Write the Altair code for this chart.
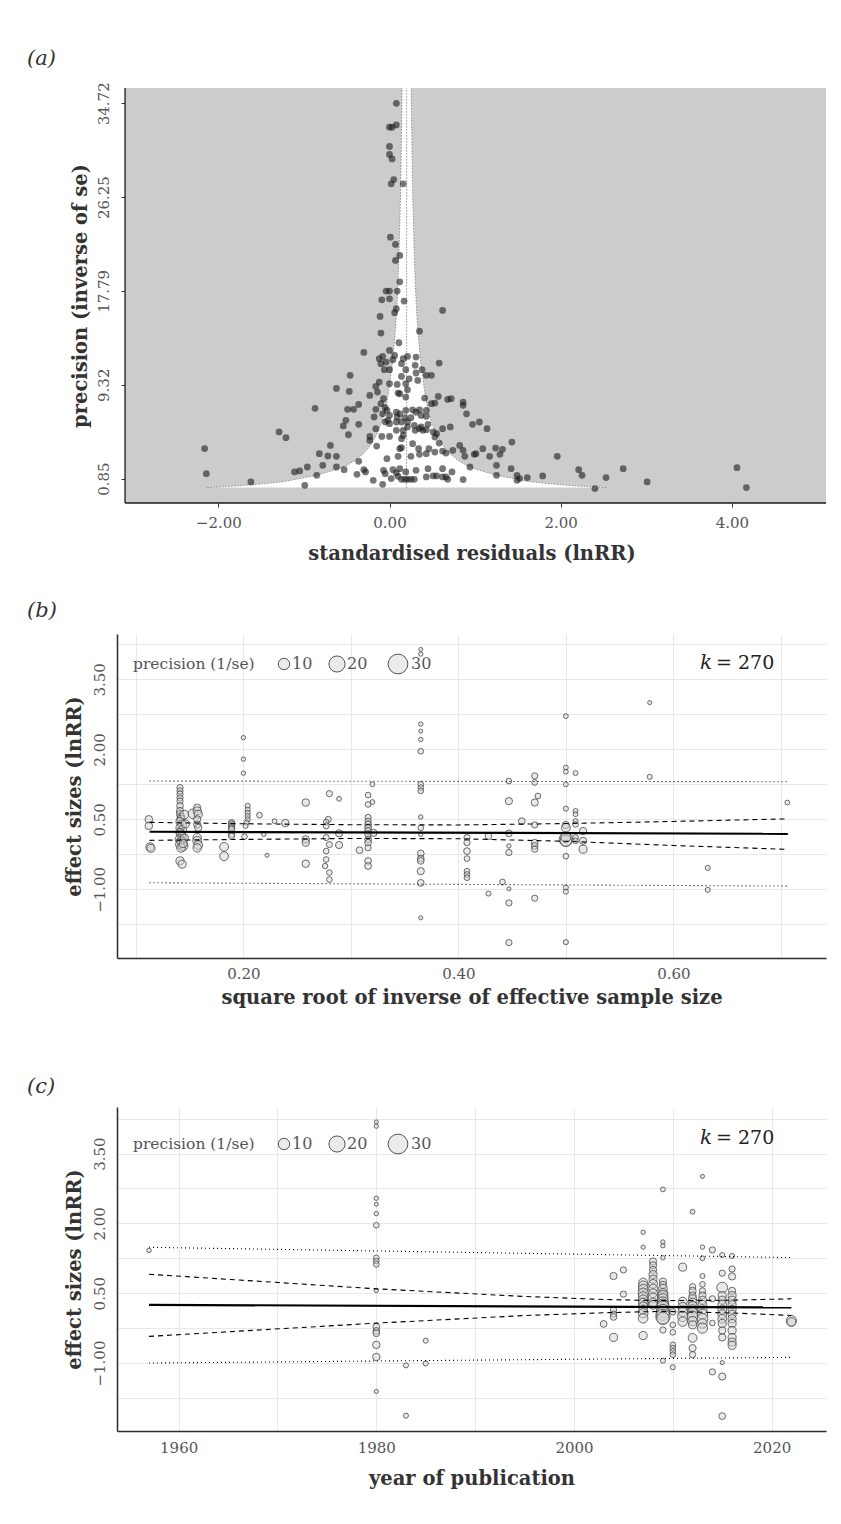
import altair as alt
import pandas as pd

SERIF = "DejaVu Serif"
TICK_C = "#555555"
TITLE_C = "#333333"

# ---------------- panel (a): funnel plot ----------------
a_resid = [0.08, 0.00, 0.03, 0.08, 0.00, 0.00, 0.03, 0.05, 0.02, 0.16,
           0.01, 0.07, 0.12, 0.07, 0.12, -0.04, 0.00, 0.09, -0.09, 0.00,
           0.17, 0.08, 0.06, 0.62, -0.11, -0.10, 0.35, 0.11, 0.00,
           -0.30, -0.08, -0.12, 0.04, -0.04, -0.10, 0.06, 0.16, 0.21, 0.31,
           0.14, 0.19, 0.30, 0.00, -0.06, 0.38, 0.58, 0.31, 0.43, 0.49,
           -0.46, 0.14, 0.23, 0.33, -0.12, -0.16, 0.00, 0.09, 0.19, -0.62,
           -0.47, -0.14, 0.10, 0.12, 0.21, -0.23, 0.19, 0.57,
           0.68, 0.72, 0.86, 0.86, -0.07, -0.10, 0.41, 0.49, 0.53, -0.36,
           -0.49, -0.42, -0.87, -0.16, -0.05, -0.03, 0.08, 0.12, 0.19, 0.27,
           0.31, 0.35, 0.43, 0.90, -0.18, 0.09, 0.18, 0.25, 0.37, 0.43,
           -0.08, 0.00,
           -0.51, -0.54, -0.36, -0.05, -0.02, 0.00, 0.08, 0.14, 0.21, 0.29,
           0.37, 0.45, 0.97, 1.05, -0.16, 0.08, 0.16, 0.35, 0.39, 0.43,
           0.62, 0.71, 1.14, 0.21, 0.30,
           0.51, -0.48, -0.23, -0.23, -0.09, 0.00, 0.16, 0.14, 0.53, 0.55,
           1.43, -0.69, -0.15, 0.12, 0.14, 0.34, 0.46, 0.58, 0.82, -1.29,
           -1.21, 0.27,
           0.86, 0.88, 0.99, 1.01, 1.09, 1.17, 1.24, 1.32, 1.29, -0.82,
           -0.72, -0.62, -0.03, 0.10, 0.25, 0.35, 0.43, 0.53, 0.62, 0.74,
           -0.36, 0.66,
           -0.78, -0.62, -0.53, -1.11, -1.05, -0.96, -0.85, -0.38, -0.30, -0.28,
           -0.07, -0.05, 0.04, 0.08, 0.12, 0.19, 0.31, 0.45, 0.55, 0.62,
           0.73, 0.66, -0.19, -0.08, 0.02, 0.10, 0.14, 0.18, 0.21, 0.25,
           0.29, 0.43, 0.51, 0.62, 0.68, 0.86, 0.94, 1.25, 1.25, 1.42,
           1.49, 1.49, 1.52, 1.61, -0.99,
           -2.16, -2.14, -1.62,
           4.06, 4.17, 3.01, 2.73, 2.53, 2.40, 2.21, 2.25, 1.96, 1.79]
a_prec = [34.72, 32.56, 32.56, 32.77, 30.82, 30.10, 29.70, 27.84, 27.45, 27.45,
          22.64, 21.98, 20.99, 20.54, 18.61, 17.77, 17.77, 17.77, 16.99, 17.08,
          16.87, 16.18, 15.82, 16.03, 15.49, 13.98, 14.16, 13.11, 12.42,
          12.24, 11.88, 11.67, 11.58, 11.37, 11.22, 11.97, 11.67, 11.88, 11.82,
          11.22, 10.68, 11.07, 10.68, 10.68, 10.68, 11.28, 10.38, 10.17, 10.17,
          10.17, 10.07, 9.86, 9.71, 9.56, 9.17, 9.41, 9.35, 9.41, 8.99,
          8.72, 8.66, 8.57, 8.51, 8.87, 8.36, 8.21, 8.27,
          8.00, 8.06, 7.76, 7.46, 8.06, 7.61, 8.12, 7.61, 7.67, 7.55,
          7.10, 7.10, 7.19, 7.10, 7.25, 7.00, 6.85, 6.70, 7.00, 7.06,
          6.85, 7.06, 7.00, 6.70, 6.41, 6.41, 6.35, 6.35, 6.55, 6.47,
          6.70, 6.55,
          6.11, 5.60, 5.75, 5.96, 6.11, 5.81, 5.96, 5.96, 5.96, 5.66,
          5.51, 5.75, 5.75, 5.96, 5.36, 5.21, 5.21, 5.36, 5.21, 5.27,
          5.36, 5.51, 5.36, 5.51, 5.21,
          5.06, 4.81, 4.66, 4.30, 4.66, 4.66, 4.75, 4.45, 4.60, 4.90,
          4.15, 3.85, 3.79, 3.55, 3.64, 3.55, 3.55, 4.06, 3.85, 5.06,
          4.54, 4.00,
          3.40, 2.86, 3.04, 3.10, 3.55, 2.86, 3.61, 3.49, 3.04, 3.10,
          2.89, 2.86, 2.65, 2.86, 2.86, 3.04, 3.10, 3.25, 3.34, 3.40,
          2.41, 3.16,
          2.05, 1.90, 1.66, 1.45, 1.54, 1.90, 1.15, 1.24, 1.66, 1.45,
          1.60, 1.30, 1.66, 1.36, 1.75, 1.45, 1.60, 1.75, 1.09, 1.75,
          1.45, 1.00, 0.70, 0.34, 0.85, 1.06, 0.79, 0.79, 0.79, 0.79,
          0.79, 1.00, 1.09, 1.00, 0.79, 0.76, 1.90, 2.05, 1.15, 1.75,
          1.15, 0.70, 0.85, 0.94, 0.25,
          3.56, 1.30, 0.55,
          1.84, 0.04, 0.55, 1.75, 0.94, -0.05, 1.66, 1.15, 2.86, 1.09]
a_xticks = [-2, 0, 2, 4]
a_yticks = [0.85, 9.32, 17.79, 26.25, 34.72]
funnel_centre = 0.2
funnel_prec = [0.04, 0.2, 0.4, 0.6, 0.85, 1.1, 1.4, 1.7, 2.0, 2.5, 3.0, 3.5,
               4.0, 5.0, 6.0, 7.0, 8.0, 9.32, 11.0, 13.0, 15.5, 17.79, 21.0,
               26.25, 31.0, 36.1]
funnel_half = [2.33, 1.96, 1.65, 1.42, 1.25, 1.08, 0.94, 0.81, 0.71, 0.60,
               0.52, 0.46, 0.41, 0.34, 0.29, 0.25, 0.225, 0.20, 0.17, 0.145,
               0.12, 0.105, 0.09, 0.072, 0.062, 0.053]

# ---------------- panel (b): effect size vs sqrt(1/n_eff) ----------------
b_x = [0.112, 0.112, 0.113, 0.114,
       0.141, 0.141, 0.141, 0.141, 0.141, 0.141, 0.141, 0.141, 0.142, 0.142,
       0.141, 0.143, 0.141, 0.143, 0.141, 0.142, 0.143, 0.141, 0.142, 0.143,
       0.141, 0.144, 0.142, 0.145, 0.146, 0.145, 0.144, 0.141, 0.143, 0.153,
       0.157, 0.157, 0.158, 0.157, 0.157, 0.158, 0.157, 0.157, 0.158, 0.157,
       0.182, 0.182,
       0.189, 0.189, 0.189, 0.189, 0.189, 0.189, 0.189,
       0.200, 0.200, 0.200, 0.204, 0.204, 0.204, 0.204, 0.204, 0.203, 0.202, 0.201,
       0.215, 0.219, 0.222, 0.229, 0.239,
       0.258, 0.258, 0.258, 0.258,
       0.280, 0.289, 0.279, 0.277, 0.277, 0.277, 0.280, 0.277, 0.277, 0.276,
       0.280, 0.280, 0.289, 0.289, 0.308,
       0.316, 0.316, 0.320, 0.320, 0.316, 0.316, 0.316, 0.316, 0.316, 0.316,
       0.316, 0.316, 0.316, 0.316, 0.316, 0.321,
       0.365, 0.365, 0.365, 0.365, 0.365, 0.365, 0.365, 0.365, 0.365, 0.365,
       0.365, 0.365, 0.365, 0.365, 0.365, 0.365, 0.365, 0.365,
       0.408, 0.408, 0.408, 0.408, 0.408, 0.408, 0.408, 0.428, 0.428, 0.441,
       0.447, 0.447, 0.447, 0.447, 0.447, 0.447, 0.447, 0.447, 0.459,
       0.471, 0.471, 0.474, 0.471, 0.471, 0.471, 0.471, 0.471, 0.471,
       0.500, 0.500, 0.500, 0.500, 0.500, 0.500, 0.500, 0.500, 0.500, 0.500,
       0.500, 0.500, 0.500, 0.500,
       0.509, 0.509, 0.509, 0.509, 0.509, 0.509, 0.509,
       0.516, 0.516, 0.516, 0.578, 0.578, 0.632, 0.632, 0.706]
b_y = [0.50, 0.36, -0.09, -0.12,
       1.18, 1.11, 1.04, 0.96, 0.89, 0.79, 0.68, 0.61, 0.55, 0.50,
       0.45, 0.39, 0.32, 0.27, 0.22, 0.18, 0.14, 0.07, 0.04, 0.00,
       -0.04, -0.07, -0.11, 0.60, 0.40, 0.10, -0.02, -0.39, -0.46, 0.62,
       0.75, 0.68, 0.61, 0.50, 0.39, 0.32, 0.11, 0.04, -0.05, -0.11,
       -0.09, -0.29,
       0.43, 0.40, 0.36, 0.32, 0.29, 0.18, 0.14,
       2.25, 1.79, 1.49, 0.79, 0.71, 0.64, 0.57, 0.50, 0.43, 0.36, 0.13,
       0.59, 0.18, -0.27, 0.46, 0.42,
       0.86, 0.07, 0.00, -0.45,
       1.05, 0.94, 0.50, 0.44, 0.36, 0.11, -0.04, -0.18, -0.36, -0.50,
       -0.64, -0.79, 0.20, -0.05, -0.16,
       1.02, 0.82, 0.87, 1.25, 0.54, 0.46, 0.39, 0.32, 0.25, 0.18,
       0.07, 0.00, -0.11, -0.39, -0.50, 0.21,
       4.14, 4.04, 2.54, 2.39, 2.21, 1.96, 1.25, 1.18, 1.11, 0.55,
       0.32, 0.18, -0.23, -0.34, -0.39, -0.61, -0.86, -1.61,
       0.11, 0.00, -0.18, -0.34, -0.61, -0.68, -0.75, 0.14, -1.09, -0.84,
       1.32, 0.89, 0.20, -0.07, -0.21, -0.99, -1.29, -2.14, 0.46,
       1.43, 1.29, 1.00, 0.86, 0.38, 0.00, -0.07, -0.14, -1.19,
       2.71, 1.61, 1.52, 1.25, 0.73, 0.38, 0.32, 0.07, 0.04, 0.12,
       -0.29, -0.96, -1.05, -2.13,
       1.49, 0.68, 0.61, 0.46, 0.39, 0.11, 0.04,
       0.25, 0.04, -0.14, 3.00, 1.41, -0.54, -1.01, 0.86]
b_prec = [4.5, 4.5, 5, 5,
          3, 3, 3, 3, 3, 3.5, 4, 4, 4.5, 5,
          5, 6, 5, 6, 5, 6, 5, 7, 6, 7,
          6, 7, 6, 6, 5, 5, 5, 5, 5, 7,
          4, 5, 5, 4, 4, 4, 5.5, 6, 6, 5.5,
          6, 6,
          3, 3, 3, 3, 3, 3, 3,
          1.5, 1.5, 1.5, 2, 2, 2, 2, 2, 2, 2, 2.5,
          2.5, 1.5, 1.3, 1.8, 4.3,
          4.3, 4.3, 4.3, 4.3,
          3, 1.8, 2.8, 2.5, 2.8, 2.8, 2.8, 2.5, 2.5, 2.3,
          2.5, 2.5, 4, 4, 3.5,
          2.5, 2.5, 1.8, 1.8, 3, 3, 3.5, 3.5, 3.5, 3.5,
          3.5, 3.5, 3, 3.5, 3.5, 4,
          1.2, 1.5, 1.5, 1.2, 1.5, 2.5, 2.5, 2.5, 2.5, 1.5,
          2.5, 1.5, 3.5, 3.5, 3.5, 4, 3.5, 1.3,
          3, 3, 3.5, 2.5, 2.5, 2.5, 2.5, 3.5, 2, 2.5,
          2.5, 4, 3.5, 1.5, 3, 1.3, 3, 3, 3.5,
          3, 2.5, 2.5, 4, 3, 3.5, 3.5, 3, 3,
          1.8, 1.8, 1.8, 1.8, 2, 4, 6, 14, 10, 8,
          2.5, 2, 2, 2,
          1.8, 1.8, 1.8, 2, 2.5, 2.5, 2.5,
          4, 4, 5, 1.3, 2, 2, 2, 1.8]
b_xgrid = [0.1, 0.2, 0.3, 0.4, 0.5, 0.6, 0.7]
b_fit_x = [0.1127, 0.7065]
b_fit = [0.234, 0.190]
b_pi_lo = [-0.858, -0.930]
b_pi_hi = [1.320, 1.306]
b_ci_x = [0.1127, 0.2, 0.3, 0.4, 0.5, 0.6, 0.7065]
b_ci_lo = [0.05, 0.07, 0.09, 0.085, 0.03, -0.06, -0.143]
b_ci_hi = [0.436, 0.405, 0.385, 0.38, 0.41, 0.455, 0.51]

# ---------------- panel (c): effect size vs year ----------------
c_year = [1957,
          1980, 1980, 1980, 1980, 1980, 1980, 1980, 1980, 1980, 1980,
          1980, 1980, 1980, 1980, 1980, 1980,
          1983, 1983, 1985, 1985, 2003,
          2004, 2004, 2004, 2004, 2004, 2005, 2005,
          2007, 2007, 2007, 2007, 2007, 2007, 2007, 2007, 2007, 2007, 2007, 2007, 2007, 2007,
          2008, 2008, 2008, 2008, 2008, 2008, 2008, 2008, 2008, 2008, 2008,
          2009, 2009, 2009, 2009, 2009, 2009, 2009, 2009, 2009, 2009,
          2009, 2009, 2009, 2009, 2009, 2009, 2009, 2009, 2009,
          2010, 2010, 2010, 2010, 2010, 2010, 2010, 2010,
          2011, 2011, 2011, 2011, 2011, 2011,
          2012, 2012, 2012, 2012, 2012, 2012, 2012, 2012, 2012, 2012,
          2012, 2012, 2012, 2012, 2012,
          2013, 2013, 2013, 2013, 2013, 2013, 2013, 2013, 2013, 2013,
          2013, 2013, 2013, 2013,
          2014, 2014, 2014, 2014,
          2015, 2015, 2015, 2015, 2015, 2015, 2015, 2015, 2015, 2015,
          2015, 2015, 2015, 2015, 2015,
          2016, 2016, 2016, 2016, 2016, 2016, 2016, 2016, 2016, 2016,
          2016, 2016, 2016, 2016, 2016,
          2022, 2022]
c_y = [1.42,
       4.18, 4.09, 2.54, 2.41, 2.21, 1.96, 1.26, 1.19, 1.12, 0.56,
       -0.22, -0.31, -0.36, -0.61, -0.87, -1.61,
       -1.05, -2.13, -0.52, -1.01, -0.16,
       0.87, 0.14, 0.05, -0.01, -0.45, 1.00, 0.48,
       1.81, 1.49, 0.73, 0.66, 0.59, 0.50, 0.43, 0.36, 0.29, 0.22, 0.14, 0.07, -0.04, -0.41,
       1.18, 1.10, 1.00, 0.90, 0.80, 0.70, 0.60, 0.50, 0.40, 0.30, 0.25,
       2.73, 1.60, 1.52, 1.26, 0.75, 0.68, 0.60, 0.50, 0.45, 0.38,
       0.30, 0.25, 0.20, 0.12, 0.06, 0.00, -0.04, -0.29, -0.95,
       0.10, -0.18, -0.34, -0.61, -0.68, -0.75, -0.82, -1.09,
       1.06, 0.32, 0.20, 0.10, 0.00, -0.11,
       2.25, 0.64, 0.55, 0.45, 0.38, 0.30, 0.22, 0.15, 0.08, 0.00,
       -0.10, -0.18, -0.46, -0.68, -0.82,
       3.01, 1.49, 1.25, 0.87, 0.69, 0.55, 0.45, 0.35, 0.25, 0.15,
       0.05, -0.05, -0.15, -0.25,
       1.43, 0.38, -0.14, -1.19,
       1.32, 0.93, 0.62, 0.45, 0.35, 0.25, 0.15, 0.05, -0.05, -0.15,
       -0.30, -0.45, -0.99, -1.29, -2.14,
       1.30, 1.02, 0.86, 0.55, 0.45, 0.35, 0.25, 0.15, 0.05, -0.05,
       -0.15, -0.30, -0.45, -0.55, -0.62,
       -0.09, -0.12]
c_prec = [1.5,
          1.2, 1.5, 1.5, 1.2, 1.5, 2.5, 2.5, 2.5, 2.5, 1.5,
          3.5, 3.5, 3.5, 4.3, 4.3, 1.3,
          2, 2, 2, 2, 3.5,
          4, 3, 3, 3.5, 5, 3, 3,
          1.5, 1.5, 6, 7, 7, 8, 7, 7, 7, 6, 6, 7, 7, 5,
          4, 4, 4, 5, 5, 6, 6, 6, 7, 6, 6,
          1.8, 1.5, 1.5, 1.5, 4, 4, 6, 7, 8, 8,
          10, 10, 12, 13, 14, 16, 12, 3, 2,
          3, 2.5, 2.5, 2.5, 2.5, 2.5, 2.5, 2,
          5, 6, 7, 7, 8, 7,
          1.8, 3, 4, 4, 5, 6, 7, 7, 8, 9,
          7, 5, 6, 4, 3,
          1.3, 1.5, 1.8, 2, 2.5, 3, 4, 5, 6, 7,
          8, 9, 7, 8,
          3, 3, 2.5, 3,
          2, 3, 9, 5, 5, 6, 6, 6, 6, 5,
          4, 4, 1.3, 4, 3.5,
          2, 3, 4, 4, 5, 5, 5, 5, 5, 5,
          5, 5, 5, 5, 5,
          8, 6]
c_xgrid = [1960, 1970, 1980, 1990, 2000, 2010, 2020]
c_fit_x = [1957, 2022]
c_fit = [0.250, 0.194]
c_pi_lo = [-1.000, -0.878]
c_pi_hi = [1.486, 1.265]
c_ci_x = [1957, 1980, 1995, 2003, 2009, 2016, 2022]
c_ci_lo = [-0.428, -0.143, 0.02, 0.08, 0.11, 0.075, 0.022]
c_ci_hi = [0.907, 0.594, 0.43, 0.365, 0.34, 0.35, 0.38]

# shared for (b), (c)
es_ygrid = [-1.75, -1.0, -0.25, 0.5, 1.25, 2.0, 2.75, 3.5, 4.25]
legend_vals = [10, 20, 30]
k_label = "= 270"

size_scale = alt.Scale(domain=[0, 35], range=[0, 455])
ONE = pd.DataFrame({"k": [0]})
TITLE_FS = 19.5


def ax(**kw):
    base = dict(labelFont=SERIF, labelFontSize=15, labelColor=TICK_C,
                titleFont=SERIF, titleFontSize=TITLE_FS, titleFontWeight="bold",
                titleColor=TITLE_C)
    base.update(kw)
    return alt.Axis(**base)


def panel_title(txt, offset):
    return alt.TitleParams(txt, anchor="start", frame="group", dx=-90, offset=offset,
                           font=SERIF, fontStyle="italic", fontWeight="normal",
                           fontSize=21, color="#333333")


# ---------- build (a) ----------
xa_s = alt.Scale(domain=[-3.184, 5.10], nice=False, zero=False)
ya_s = alt.Scale(domain=[-1.35, 36.1], nice=False, zero=False)
xa_ax = ax(values=a_xticks, format=".2f", title="standardised residuals (lnRR)",
           domain=False, ticks=True, tickSize=4, tickColor="#333333", grid=False,
           labelPadding=8, titlePadding=14)
ya_ax = ax(values=a_yticks, format=".2f", title="precision (inverse of se)",
           domain=False, ticks=True, tickSize=4, tickColor="#333333", grid=False,
           offset=-8, labelAngle=270, labelAlign="center", labelBaseline="bottom",
           labelPadding=10, titlePadding=6)


def XA(f):
    return alt.X(f, type="quantitative", scale=xa_s, axis=xa_ax)


def YA(f):
    return alt.Y(f, type="quantitative", scale=ya_s, axis=ya_ax)


def XAD(v):
    return alt.XDatum(v, type="quantitative", scale=xa_s, axis=xa_ax)


def YAD(v):
    return alt.YDatum(v, type="quantitative", scale=ya_s, axis=ya_ax)


a_df = pd.DataFrame({"resid": a_resid, "prec": a_prec})
fun_df = pd.DataFrame({"prec": funnel_prec,
                       "lo": [funnel_centre - h for h in funnel_half],
                       "hi": [funnel_centre + h for h in funnel_half]})

a_bg = alt.Chart(ONE).mark_rect(color="#cccccc").encode(
    x=XAD(-3.09), x2=alt.X2Datum(5.10), y=YAD(-1.35), y2=alt.Y2Datum(36.1))
a_fun = alt.Chart(fun_df).mark_area(orient="horizontal", color="white").encode(
    y=YA("prec"), x=XA("lo"), x2=alt.X2("hi"))
a_e1 = alt.Chart(fun_df).mark_line(color="#7a7a7a", strokeDash=[1.5, 1.5], strokeWidth=0.8).encode(
    x=XA("lo"), y=YA("prec"), order=alt.Order("prec:Q"))
a_e2 = alt.Chart(fun_df).mark_line(color="#7a7a7a", strokeDash=[1.5, 1.5], strokeWidth=0.8).encode(
    x=XA("hi"), y=YA("prec"), order=alt.Order("prec:Q"))
a_c = alt.Chart(ONE).mark_rule(color="#7a7a7a", strokeDash=[1.5, 1.5], strokeWidth=0.8).encode(
    x=XAD(funnel_centre), y=YAD(funnel_prec[0]), y2=alt.Y2Datum(funnel_prec[-1]))
a_pts = alt.Chart(a_df).mark_circle(size=46, color="#1a1a1a", opacity=0.6).encode(
    x=XA("resid"), y=YA("prec"))
a_l1 = alt.Chart(ONE).mark_rule(color="#1a1a1a", strokeWidth=1.3).encode(
    x=XAD(-3.09), y=YAD(-1.35), y2=alt.Y2Datum(36.1))
a_l2 = alt.Chart(ONE).mark_rule(color="#1a1a1a", strokeWidth=1.3).encode(
    y=YAD(-1.35), x=XAD(-3.09), x2=alt.X2Datum(5.10))

panel_a = alt.layer(a_bg, a_fun, a_e1, a_e2, a_c, a_pts, a_l1, a_l2).properties(
    width=709, height=415, title=panel_title("(a)", 13))


# ---------- builder for (b) and (c) ----------
def es_panel(xs, ys, ps, xdom, ydom, xgrid, xlabel_expr, xtitle,
             fit_x, fit, pi_lo, pi_hi, ci_x, ci_lo, ci_hi, tag, toff, leg_y, k_y,
             lpad, tpad):
    xs_s = alt.Scale(domain=xdom, nice=False, zero=False)
    ys_s = alt.Scale(domain=ydom, nice=False, zero=False)
    x_ax = ax(values=xgrid, labelExpr=xlabel_expr, title=xtitle, grid=True,
              gridColor="#e8e8e8", gridWidth=1, domain=True, domainColor="#2b2b2b",
              domainWidth=1.5, ticks=False, labelPadding=lpad, titlePadding=tpad)
    y_ax = ax(values=es_ygrid,
              labelExpr="indexof([-1, 0.5, 2, 3.5], datum.value) >= 0 ? format(datum.value, '.2f') : ''",
              title="effect sizes (lnRR)", grid=True, gridColor="#e8e8e8", gridWidth=1,
              domain=True, domainColor="#2b2b2b", domainWidth=1.5, ticks=False,
              labelAngle=270, labelAlign="center", labelBaseline="bottom",
              labelPadding=10, titlePadding=8)

    def X(f):
        return alt.X(f, type="quantitative", scale=xs_s, axis=x_ax)

    def Y(f):
        return alt.Y(f, type="quantitative", scale=ys_s, axis=y_ax)

    df = pd.DataFrame({"x": xs, "y": ys, "prec": ps})
    pts = alt.Chart(df).mark_circle(fill="#d4d4d4", fillOpacity=0.5, stroke="#404040",
                                    strokeOpacity=0.85, strokeWidth=0.9, opacity=1).encode(
        x=X("x"), y=Y("y"), size=alt.Size("prec:Q", scale=size_scale, legend=None))

    fit_df = pd.DataFrame({"x": fit_x, "y": fit})
    pi_df = pd.DataFrame({"x": fit_x + fit_x, "y": pi_lo + pi_hi,
                          "side": ["lo"] * len(fit_x) + ["hi"] * len(fit_x)})
    ci_df = pd.DataFrame({"x": ci_x + ci_x, "y": ci_lo + ci_hi,
                          "side": ["lo"] * len(ci_x) + ["hi"] * len(ci_x)})
    l_fit = alt.Chart(fit_df).mark_line(color="black", strokeWidth=2.2).encode(x=X("x"), y=Y("y"))
    l_pi = alt.Chart(pi_df).mark_line(color="black", strokeWidth=1.1, strokeDash=[1, 3]).encode(
        x=X("x"), y=Y("y"), detail="side:N")
    l_ci = alt.Chart(ci_df).mark_line(color="black", strokeWidth=1.1, strokeDash=[5, 4]).encode(
        x=X("x"), y=Y("y"), detail="side:N")

    # legend drawn inside the panel
    leg = [alt.Chart(ONE).mark_text(text="precision (1/se)", font=SERIF, fontSize=15.5,
                                    color=TICK_C, align="left", baseline="middle").encode(
        x=alt.value(16), y=alt.value(leg_y))]
    for val, cx, lx in zip(legend_vals, [167, 220, 281], [175, 230, 294]):
        ldf = pd.DataFrame({"prec": [val]})
        leg.append(alt.Chart(ldf).mark_circle(fill="#ebebeb", stroke="#555555", strokeWidth=1,
                                              opacity=1).encode(
            x=alt.value(cx), y=alt.value(leg_y),
            size=alt.Size("prec:Q", scale=size_scale, legend=None)))
        leg.append(alt.Chart(ldf).mark_text(font=SERIF, fontSize=16, color=TICK_C,
                                            align="left", baseline="middle").encode(
            x=alt.value(lx), y=alt.value(leg_y), text=alt.Text("prec:Q", format="d")))
    k1 = alt.Chart(ONE).mark_text(text="k", font=SERIF, fontStyle="italic", fontSize=20,
                                  color="#222222", align="left", baseline="alphabetic").encode(
        x=alt.value(583), y=alt.value(k_y))
    k2 = alt.Chart(ONE).mark_text(text=k_label, font=SERIF, fontSize=19,
                                  color="#222222", align="left", baseline="alphabetic").encode(
        x=alt.value(599), y=alt.value(k_y))

    return alt.layer(pts, l_pi, l_ci, l_fit, *leg, k1, k2).properties(
        width=709, height=324, title=panel_title(tag, toff))


panel_b = es_panel(b_x, b_y, b_prec, [0.0824, 0.742], [-2.47, 4.47], b_xgrid,
                   "indexof([2, 4, 6], round(datum.value * 10)) >= 0 ? format(datum.value, '.2f') : ''",
                   "square root of inverse of effective sample size",
                   b_fit_x, b_fit, b_pi_lo, b_pi_hi, b_ci_x, b_ci_lo, b_ci_hi,
                   "(b)", 13, 30, 35, 8, 7)
panel_c = es_panel(c_year, c_y, c_prec, [1953.76, 2025.5], [-2.46, 4.50], c_xgrid,
                   "datum.value % 20 == 0 ? format(datum.value, 'd') : ''",
                   "year of publication",
                   c_fit_x, c_fit, c_pi_lo, c_pi_hi, c_ci_x, c_ci_lo, c_ci_hi,
                   "(c)", 10, 37, 37, 9, 14)

chart = alt.vconcat(
    alt.vconcat(panel_a, panel_b, spacing=37),
    panel_c, spacing=69
).configure_view(stroke=None).properties(
    padding={"left": 19, "top": 39, "right": 5, "bottom": 5})

chart.save("out.html", embed_options={"renderer": "svg", "actions": False})
